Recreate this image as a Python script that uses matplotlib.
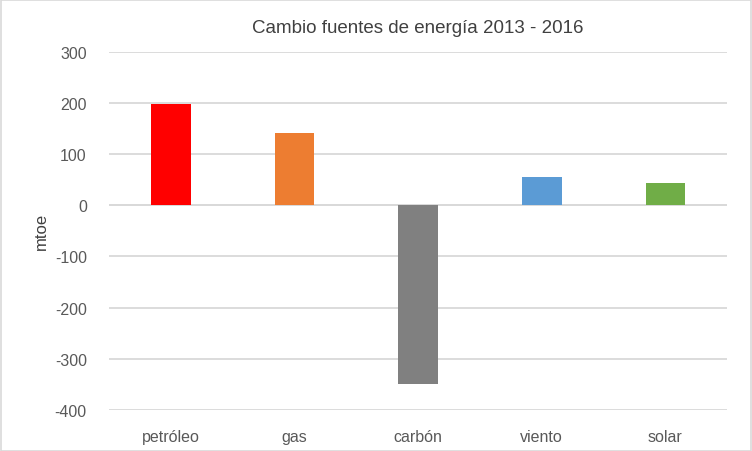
import matplotlib.pyplot as plt
import numpy as np

# Data
categories = ['petróleo', 'gas', 'carbón', 'viento', 'solar']
values = [198, 140, -350, 56, 44]
colors = ['#FF0000', '#ED7D31', '#808080', '#5B9BD5', '#70AD47']

plt.rcParams['font.family'] = ['Liberation Sans', 'DejaVu Sans']
plt.rcParams['axes.unicode_minus'] = False

fig = plt.figure(figsize=(7.52, 4.52), dpi=100)
ax = fig.add_axes([0.145, 0.0907, 0.822, 0.793])

x = np.arange(len(categories))
ax.bar(x, values, width=0.32, color=colors, zorder=3)

ax.set_xlim(-0.5, len(categories) - 0.5)
ax.set_ylim(-400, 300)
ax.set_yticks(np.arange(-400, 301, 100))
ax.set_xticks(x)
ax.set_xticklabels(categories)
ax.grid(axis='y', color='#D9D9D9', linewidth=1.3, zorder=0)
ax.axhline(0, color='#D9D9D9', linewidth=1.3, zorder=1)
for s in ax.spines.values():
    s.set_visible(False)
ax.tick_params(axis='both', length=0, colors='#595959', labelsize=11.5)
ax.tick_params(axis='x', pad=14)
ax.tick_params(axis='y', pad=16)
ax.set_ylabel('mtoe', fontsize=12, color='#404040', labelpad=4)
ax.set_title('Cambio fuentes de energía 2013 - 2016', fontsize=13.5, color='#404040', pad=14)

# light border round the chart
fig.patches.append(plt.Rectangle((0.001, 0.001), 0.998, 0.997, transform=fig.transFigure,
                                 fill=False, edgecolor='#D9D9D9', linewidth=1.2))

fig.savefig('out.png', dpi=100)
